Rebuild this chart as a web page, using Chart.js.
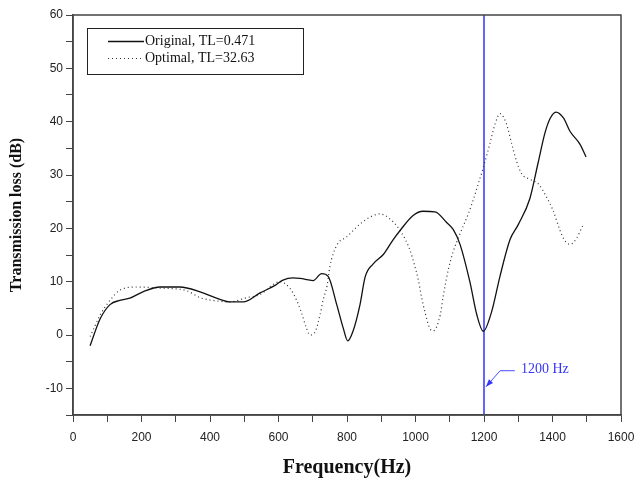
<!DOCTYPE html>
<html>
<head>
<meta charset="utf-8">
<script src="https://cdn.jsdelivr.net/npm/chart.js@4"></script>
<style>
  html, body { margin: 0; padding: 0; background: #fff; }
  #wrap { width: 637px; height: 481px; }
</style>
</head>
<body>
<div id="wrap"><canvas id="tlChart" width="637" height="481"></canvas></div>
<script>
// Data
const origFreq = [50, 79, 108, 137, 166, 204, 254, 312, 371, 419, 458, 497, 546, 590, 613, 643, 663, 701, 726, 745, 770, 789, 802, 818, 838, 853, 876, 906, 935, 955, 993, 1022, 1057, 1091, 1110, 1130, 1159, 1179, 1198, 1222, 1247, 1276, 1300, 1334, 1358, 1378, 1393, 1410, 1432, 1451, 1480, 1498];
const origTL = [-2.0, 3.0, 5.7, 6.5, 6.9, 8.1, 9.0, 9.0, 8.1, 6.9, 6.2, 6.2, 7.9, 9.3, 10.3, 10.7, 10.6, 10.2, 11.5, 11.0, 5.7, 1.3, -1.1, 0.8, 5.7, 10.9, 13.3, 15.1, 17.9, 19.6, 22.4, 23.2, 23.1, 21.1, 19.8, 17.0, 9.9, 3.8, 0.7, 4.3, 11.1, 17.9, 20.7, 25.6, 32.3, 37.9, 40.6, 41.8, 40.7, 38.2, 35.8, 33.4];

const optFreq = [50, 79, 108, 137, 186, 254, 332, 371, 419, 458, 507, 546, 604, 634, 653, 668, 682, 692, 707, 721, 730, 742, 750, 770, 799, 838, 867, 896, 930, 955, 984, 998, 1008, 1018, 1028, 1042, 1052, 1072, 1081, 1096, 1110, 1130, 1154, 1174, 1183, 1198, 1218, 1232, 1247, 1266, 1281, 1295, 1310, 1334, 1359, 1383, 1402, 1422, 1436, 1451, 1470, 1488];
const optTL = [-0.3, 3.7, 6.5, 8.4, 9.0, 8.8, 8.3, 7.0, 6.4, 6.2, 7.0, 7.6, 10.0, 8.7, 6.5, 4.0, 1.2, 0.0, 0.6, 3.7, 6.5, 9.3, 12.8, 16.8, 18.4, 20.8, 22.1, 22.7, 21.5, 19.6, 15.9, 12.9, 10.4, 7.0, 4.2, 1.2, 0.8, 3.7, 7.3, 12.3, 15.6, 19.0, 22.7, 26.4, 28.3, 31.4, 36.1, 39.5, 41.5, 39.5, 35.8, 32.6, 30.2, 29.2, 28.3, 25.8, 23.3, 19.6, 17.7, 17.0, 18.1, 20.5];

const seriesLabels = ["Original, TL=0.471", "Optimal, TL=32.63"];
const markFreq = 1200;
const markLabel = "1200 Hz";

const xTicks = { min: 0, max: 1600, step: 100 };
const yTicks = { min: -15, max: 60, step: 5 };

function toPoints(xs, ys) {
  return xs.map(function (x, i) { return { x: x, y: ys[i] }; });
}

// frame, legend box and the 1200 Hz note
const decorPlugin = {
  id: "decor",
  afterDatasetsDraw: function (chart) {
    const ctx = chart.ctx;
    const a = chart.chartArea;
    const xs = chart.scales.x;
    const ys = chart.scales.y;
    ctx.save();

    // box round the plot
    ctx.strokeStyle = "#444";
    ctx.lineWidth = 1.5;
    ctx.strokeRect(a.left, a.top, a.right - a.left, a.bottom - a.top);

    // legend
    const lx = 87, ly = 28, lw = 216, lh = 46;
    ctx.fillStyle = "#fff";
    ctx.fillRect(lx, ly, lw, lh);
    ctx.strokeStyle = "#222";
    ctx.lineWidth = 1;
    ctx.strokeRect(lx + 0.5, ly + 0.5, lw, lh);
    ctx.font = "14px 'Liberation Serif'";
    ctx.textBaseline = "middle";
    chart.data.datasets.slice(0, 2).forEach(function (ds, i) {
      const yy = ly + 13 + i * 17 + 0.5;
      ctx.beginPath();
      ctx.strokeStyle = ds.borderColor;
      ctx.lineWidth = ds.borderWidth;
      ctx.setLineDash(ds.borderDash || []);
      ctx.moveTo(lx + 21, yy);
      ctx.lineTo(lx + 57, yy);
      ctx.stroke();
      ctx.setLineDash([]);
      ctx.fillStyle = "#111";
      ctx.fillText(ds.label, lx + 58, yy);
    });

    // arrow note for the marked frequency
    const tipX = xs.getPixelForValue(markFreq) + 2;
    const tipY = ys.getPixelForValue(-9.7);
    const elbX = xs.getPixelForValue(1247);
    const elbY = ys.getPixelForValue(-6.7);
    const endX = xs.getPixelForValue(1290);
    ctx.strokeStyle = "#4a4aff";
    ctx.fillStyle = "#3535ff";
    ctx.lineWidth = 1;
    ctx.beginPath();
    ctx.moveTo(endX, elbY);
    ctx.lineTo(elbX, elbY);
    ctx.lineTo(tipX, tipY);
    ctx.stroke();
    const ang = Math.atan2(tipY - elbY, tipX - elbX);
    ctx.beginPath();
    ctx.moveTo(tipX, tipY);
    ctx.lineTo(tipX - 8 * Math.cos(ang - 0.35), tipY - 8 * Math.sin(ang - 0.35));
    ctx.lineTo(tipX - 8 * Math.cos(ang + 0.35), tipY - 8 * Math.sin(ang + 0.35));
    ctx.closePath();
    ctx.fill();
    ctx.font = "14px 'Liberation Serif'";
    ctx.textBaseline = "middle";
    ctx.fillText(markLabel, xs.getPixelForValue(1308), elbY - 1);

    ctx.restore();
  },
};

const ctx = document.getElementById("tlChart").getContext("2d");
new Chart(ctx, {
  type: "line",
  data: {
    datasets: [
      {
        label: seriesLabels[0],
        data: toPoints(origFreq, origTL),
        borderColor: "#111",
        borderWidth: 1.3,
        pointRadius: 0,
        cubicInterpolationMode: "monotone",
        fill: false,
      },
      {
        label: seriesLabels[1],
        data: toPoints(optFreq, optTL),
        borderColor: "#333",
        borderWidth: 1.2,
        borderDash: [1, 3],
        pointRadius: 0,
        cubicInterpolationMode: "monotone",
        fill: false,
      },
      {
        label: "marker",
        data: [{ x: markFreq, y: yTicks.min }, { x: markFreq, y: yTicks.max }],
        borderColor: "#6464ff",
        borderWidth: 2,
        pointRadius: 0,
        fill: false,
      },
    ],
  },
  options: {
    responsive: false,
    animation: false,
    layout: { padding: { top: 15, right: 16, left: 0, bottom: 0 } },
    plugins: {
      legend: { display: false },
      tooltip: { enabled: false },
    },
    scales: {
      x: {
        type: "linear",
        min: xTicks.min,
        max: xTicks.max,
        afterFit: function (s) {
          s.height = 66;
          s.paddingLeft = 0;
          s.paddingRight = 0;
        },
        border: { display: true, color: "#444", width: 1.5 },
        grid: { drawOnChartArea: false, tickLength: 7, tickColor: "#444" },
        ticks: {
          stepSize: xTicks.step,
          padding: 8,
          maxRotation: 0,
          autoSkip: false,
          color: "#222",
          font: { family: "'Liberation Sans'", size: 12 },
          callback: function (v) { return v % 200 === 0 ? String(v) : ""; },
        },
        title: {
          display: true,
          text: "Frequency(Hz)",
          color: "#111",
          font: { family: "'Liberation Serif'", size: 20, weight: "bold" },
          padding: { top: 0, bottom: 1 },
        },
      },
      y: {
        min: yTicks.min,
        max: yTicks.max,
        afterFit: function (s) {
          s.width = 73;
          s.paddingTop = 0;
          s.paddingBottom = 0;
        },
        border: { display: true, color: "#444", width: 1.5 },
        grid: { drawOnChartArea: false, tickLength: 7, tickColor: "#444" },
        ticks: {
          stepSize: yTicks.step,
          padding: 3,
          autoSkip: false,
          color: "#222",
          font: { family: "'Liberation Sans'", size: 12 },
          callback: function (v) { return v % 10 === 0 ? String(v) : ""; },
        },
        title: {
          display: true,
          text: "Transmission loss (dB)",
          color: "#111",
          font: { family: "'Liberation Serif'", size: 16, weight: "bold" },
          padding: { top: 7, bottom: 0 },
        },
      },
    },
  },
  plugins: [decorPlugin],
});
</script>
</body>
</html>
